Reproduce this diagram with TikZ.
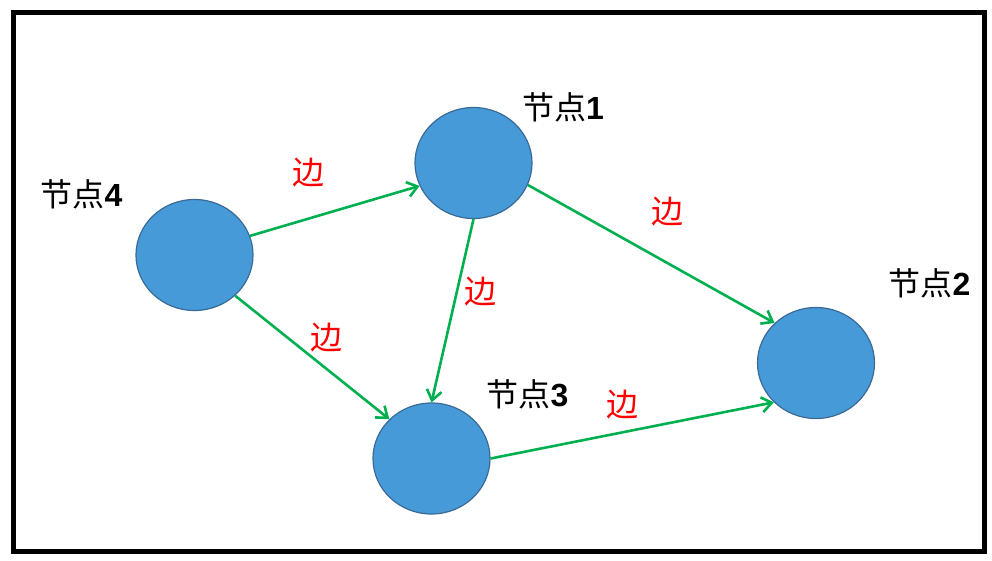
\documentclass[tikz,border=0pt]{standalone}
\usepackage{fontspec}
\setmainfont{Liberation Sans}
\newfontfamily\cjk{Noto Sans CJK SC}
\usetikzlibrary{arrows.meta,shapes.geometric}
\definecolor{nodefill}{RGB}{69,154,215}
\definecolor{nodeline}{RGB}{58,106,152}
\definecolor{edgegreen}{RGB}{0,176,80}
\tikzset{
  vertex/.style={ellipse,draw=nodeline,fill=nodefill,line width=1.2pt,minimum width=117pt,minimum height=111pt,inner sep=0pt},
  nodelabel/.style={font=\fontsize{32}{34}\selectfont,text=black,inner sep=0pt},
  edgelabel/.style={font=\fontsize{32}{34}\selectfont\cjk,text=red,inner sep=0pt},
  link/.style={draw=edgegreen,line width=2.6pt,-{Straight Barb[length=10pt,width=15pt,line width=2.6pt]}}
}
\begin{document}
\begin{tikzpicture}[x=1pt,y=-1pt]
\useasboundingbox (0,0) rectangle (992,560);
\draw[line width=5pt] (13.5,12.5) rectangle (984.5,551.5);
\node[vertex] (n4) at (194.5,255) {};
\node[vertex] (n1) at (473.5,163) {};
\node[vertex] (n2) at (816,363) {};
\node[vertex] (n3) at (431.5,458.5) {};
\node[nodelabel] (l4) at (81.5,194) {{\cjk 节点}\textbf{4}};
\node[nodelabel] (l1) at (563,107) {{\cjk 节点}\textbf{1}};
\node[nodelabel] (l2) at (929.5,283) {{\cjk 节点}\textbf{2}};
\node[nodelabel] (l3) at (527.5,394) {{\cjk 节点}\textbf{3}};
\draw[link] (n4.19) -- (n1.203);
\draw[link] (n1.-22) -- (n2.136);
\draw[link] (n1.south) -- (n3.north);
\draw[link] (n4.-45) -- (n3.137);
\draw[link] (n3.east) -- (n2.223);
\node[edgelabel] (e41) at (308,173) {边};
\node[edgelabel] (e12) at (667,212) {边};
\node[edgelabel] (e13) at (480,292) {边};
\node[edgelabel] (e43) at (326,338) {边};
\node[edgelabel] (e32) at (622.5,405) {边};
\end{tikzpicture}
\end{document}
